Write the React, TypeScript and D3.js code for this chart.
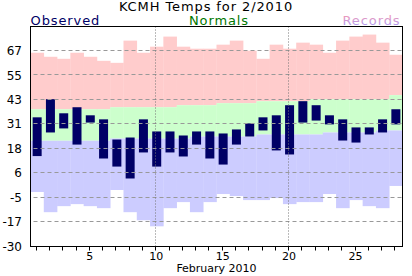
import React from "react";
import * as d3 from "d3";

const days = d3.range(1, 29);
const obsHigh = [34, 43, 36, 39, 35, 33, 23, 24, 33, 27, 27, 25, 27, 27, 26, 28, 31, 34, 35, 40, 42, 40, 35, 33, 29, 29, 33, 38];
const obsLow = [14.8, 26.5, 28.5, 20.5, 31.4, 13.6, 9.6, 3.7, 16.6, 9.6, 16.6, 14.6, 20.5, 13.6, 10.6, 20.5, 24.5, 27.5, 17.6, 15.6, 31.4, 32.4, 30.5, 22.5, 21.5, 25.5, 26.5, 30.5];
const normHigh = [38, 38, 38, 38, 38, 38, 39, 39, 39, 39, 39, 40, 40, 40, 41, 41, 41, 42, 42, 42, 42, 43, 43, 43, 43, 43, 43, 45];
const normLow = [22.4, 22.4, 22.4, 22.4, 22.4, 22.4, 23.5, 23.5, 23.5, 23.5, 23.5, 23.5, 24.5, 24.5, 24.5, 24.5, 24.5, 25.5, 25.5, 25.5, 25.5, 25.5, 26.5, 26.5, 26.5, 26.5, 27.5, 27.5];
const recHigh = [66, 64, 63, 66, 64, 62, 61, 72, 66, 69, 74, 69, 68, 68, 70, 72, 67, 63, 70, 68, 71, 70, 66, 72, 74, 75, 71, 65];
const recLow = [-3, -13, -10, -9, -10, -11, -2, -13, -17, -20, -11, -8, -13, -8, -4, -5, -7, -7, -6, -9, -8, -8, -4, -11, -7, -10, -11, 0];
const yTickLabels = ["-30", "-17", "-5", "6", "18", "31", "43", "55", "67"];
const xTickLabels = [5, 10, 15, 20, 25];
const dottedDays = [10, 20];

const W = 412, H = 276;
const L = 30.5, R = 402.5, T = 26.5, B = 246.5;
const FONT = "'DejaVu Sans', Verdana, sans-serif";

export default function App() {
  const x = d3.scaleBand<number>().domain(days).range([L, R]).padding(0);
  const bw = x.bandwidth();
  const y = d3.scaleLinear().domain([-30, 79]).range([B, T]);
  const step = (67 - -30) / 8;
  const tickVals = yTickLabels.map((_, i) => -30 + i * step);
  const cx = (d: number) => (x(d) as number) + bw / 2 - 0.5;
  const barW = 9;

  return (
    <svg width={W} height={H} style={{ position: "absolute", left: 0, top: 0 }} fontFamily={FONT}>
      <defs>
        <linearGradient id="recGrad" x1="0" y1="0" x2="0" y2="1">
          <stop offset="0%" stopColor="#ff99aa" />
          <stop offset="100%" stopColor="#a099ff" />
        </linearGradient>
      </defs>
      <rect x={0} y={0} width={W} height={H} fill="#fff" />
      {days.map((d, i) => (
        <g key={"b" + d}>
          <rect x={x(d)} y={y(recHigh[i])} width={bw + 0.3} height={y(normHigh[i]) - y(recHigh[i])} fill="#ffcccc" />
          <rect x={x(d)} y={y(normHigh[i])} width={bw + 0.3} height={y(normLow[i]) - y(normHigh[i])} fill="#ccffcc" />
          <rect x={x(d)} y={y(normLow[i])} width={bw + 0.3} height={y(recLow[i]) - y(normLow[i])} fill="#ccccff" />
        </g>
      ))}
      {days.map((d, i) => (
        <rect key={"o" + d} x={cx(d) - barW / 2 + 0.5} y={y(obsHigh[i])} width={barW} height={y(obsLow[i]) - y(obsHigh[i])} fill="#000066" />
      ))}
      {tickVals.slice(1).map((v, i) => (
        <line key={"g" + i} x1={L + 3} x2={R} y1={Math.round(y(v)) - 0.5} y2={Math.round(y(v)) - 0.5} stroke="#999" strokeWidth={1} strokeDasharray="4,3" />
      ))}
      {dottedDays.map((d) => (
        <line key={"v" + d} x1={Math.round(cx(d)) - 0.5} x2={Math.round(cx(d)) - 0.5} y1={T} y2={B} stroke="#777" strokeWidth={1} strokeDasharray="1,2" />
      ))}
      <rect x={L} y={T} width={R - L} height={B - T} fill="none" stroke="#000" strokeWidth={1} />
      {days.map((d) => (
        <line key={"t" + d} x1={Math.round(cx(d)) - 0.5} x2={Math.round(cx(d)) - 0.5} y1={B} y2={B + 4} stroke="#000" strokeWidth={1} />
      ))}
      {xTickLabels.map((d) => (
        <text key={"xl" + d} x={cx(d)} y={260} textAnchor="middle" fontSize={11} fill="#000">{d}</text>
      ))}
      <text x={(L + R) / 2} y={272} textAnchor="middle" fontSize={11} fill="#000">February 2010</text>
      {tickVals.map((v, i) => (
        <text key={"yl" + i} x={22} y={y(v)} dy="0.36em" textAnchor="end" fontSize={12} fill="#000">{yTickLabels[i]}</text>
      ))}
      <text x={W / 2} y={11} textAnchor="middle" fontSize={13} letterSpacing={0.9} fill="#000">KCMH Temps for 2/2010</text>
      <text x={L} y={25} textAnchor="start" fontSize={13} letterSpacing={0.9} fill="#000066">Observed</text>
      <text x={(L + R) / 2 + 2.5} y={25} textAnchor="middle" fontSize={13} letterSpacing={0.9} fill="#007700">Normals</text>
      <text x={R - 2} y={25} textAnchor="end" fontSize={13} letterSpacing={0.9} fill="url(#recGrad)">Records</text>
    </svg>
  );
}
